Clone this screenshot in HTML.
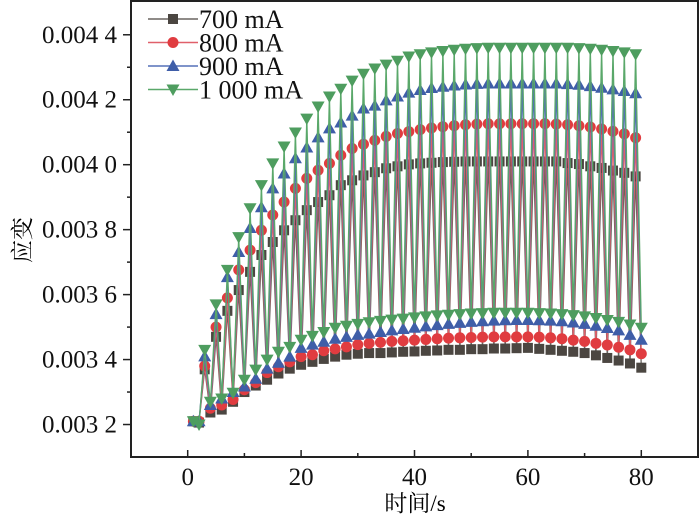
<!DOCTYPE html>
<html><head><meta charset="utf-8"><style>
html,body{margin:0;padding:0;background:#fff;}
svg{display:block;font-family:"Liberation Serif","Noto Serif CJK SC",serif;}
text{font-family:"Liberation Serif","Noto Serif CJK SC",serif;}
</style></head><body>
<svg id="chart" width="700" height="525" viewBox="0 0 700 525">
<g id="axes"></g>
<g id="series"></g>
<g id="legend"></g>
<text x="415" y="511" font-size="23" text-anchor="middle">时间/s</text>
<text transform="translate(30,240) rotate(-90)" font-size="23" text-anchor="middle">应变</text>
</svg>
<script>
// data (strain values in units of 1e-3), time t = 1..80
const times = Array.from({length:80},(_,i)=>i+1);
const strain700 = [3.21,3.206,3.37,3.237,3.47,3.246,3.55,3.27,3.614,3.3,3.67,3.32,3.722,3.338,3.762,3.357,3.798,3.372,3.829,3.384,3.86,3.393,3.885,3.402,3.906,3.409,3.937,3.415,3.952,3.418,3.967,3.42,3.977,3.42,3.989,3.422,3.995,3.424,4.001,3.425,4.004,3.427,4.006,3.428,4.008,3.43,4.009,3.43,4.01,3.432,4.01,3.432,4.01,3.434,4.01,3.434,4.01,3.435,4.01,3.436,4.01,3.433,4.01,3.43,4.01,3.427,4.005,3.424,4.002,3.42,3.995,3.413,3.99,3.405,3.982,3.397,3.975,3.388,3.964,3.375];
const strain800 = [3.21,3.21,3.38,3.25,3.5,3.26,3.59,3.277,3.676,3.307,3.737,3.329,3.798,3.36,3.845,3.378,3.885,3.393,3.927,3.409,3.958,3.415,3.983,3.427,4.004,3.433,4.029,3.439,4.05,3.446,4.063,3.45,4.075,3.453,4.087,3.456,4.096,3.458,4.102,3.46,4.108,3.462,4.113,3.464,4.117,3.466,4.12,3.467,4.123,3.468,4.125,3.469,4.126,3.47,4.126,3.47,4.126,3.47,4.126,3.47,4.126,3.469,4.126,3.467,4.125,3.464,4.123,3.46,4.12,3.456,4.116,3.45,4.11,3.445,4.103,3.438,4.095,3.43,4.083,3.418];
const strain900 = [3.21,3.21,3.41,3.26,3.54,3.28,3.654,3.3,3.731,3.317,3.805,3.341,3.869,3.372,3.927,3.39,3.973,3.409,4.02,3.436,4.053,3.446,4.084,3.455,4.112,3.464,4.13,3.47,4.151,3.476,4.173,3.48,4.182,3.485,4.198,3.49,4.21,3.494,4.222,3.498,4.23,3.502,4.236,3.506,4.24,3.51,4.244,3.513,4.247,3.516,4.249,3.518,4.25,3.52,4.25,3.521,4.25,3.522,4.25,3.522,4.25,3.521,4.25,3.52,4.25,3.518,4.248,3.514,4.246,3.51,4.242,3.504,4.237,3.497,4.232,3.49,4.227,3.476,4.22,3.461];
const strain1000 = [3.21,3.2,3.43,3.27,3.57,3.28,3.676,3.298,3.777,3.338,3.866,3.369,3.937,3.4,4.004,3.424,4.056,3.439,4.099,3.461,4.142,3.473,4.179,3.485,4.21,3.498,4.234,3.504,4.259,3.51,4.28,3.515,4.296,3.519,4.308,3.523,4.32,3.526,4.333,3.53,4.34,3.533,4.346,3.536,4.35,3.538,4.354,3.54,4.357,3.542,4.359,3.543,4.36,3.544,4.36,3.544,4.36,3.544,4.36,3.544,4.36,3.543,4.36,3.542,4.36,3.54,4.36,3.537,4.359,3.533,4.357,3.528,4.354,3.522,4.35,3.516,4.346,3.508,4.34,3.498];
const seriesNames = ["700 mA","800 mA","900 mA","1 000 mA"];
const xTicks = [0,20,40,60,80];
const xMinorTicks = [-10,10,30,50,70,90];
const yTicks = [3.2,3.4,3.6,3.8,4.0,4.2,4.4];
const yTickLabels = ["0.003 2","0.003 4","0.003 6","0.003 8","0.004 0","0.004 2","0.004 4"];
const yMinorTicks = [3.3,3.5,3.7,3.9,4.1,4.3];

const L=131,R=698,T=1,B=457;
const X0=-10,X1=90,Y0=3.1,Y1=4.504;
const xs=v=>L+(v-X0)/(X1-X0)*(R-L);
const ys=v=>B-(v-Y0)/(Y1-Y0)*(B-T);
const NS="http://www.w3.org/2000/svg";
function mk(tag,attrs,parent){const e=document.createElementNS(NS,tag);for(const k in attrs)e.setAttribute(k,attrs[k]);parent.appendChild(e);return e;}

const axes=document.getElementById('axes');
const frame=mk('rect',{x:L,y:T,width:R-L,height:B-T,fill:'none',stroke:'#222','stroke-width':2},axes);


xTicks.forEach((v,i)=>{
  const t=mk('line',{x1:xs(v),x2:xs(v),y1:B,y2:B-7,stroke:'#222','stroke-width':1.5},axes);
  
  
  const lb=mk('text',{x:xs(v),y:485,'font-size':25,'text-anchor':'middle',fill:'#111'},axes);
  lb.textContent=String(v);
  
  
});
xMinorTicks.forEach(v=>{
  if(xs(v)<=L+1||xs(v)>=R-1)return;
  const t=mk('line',{x1:xs(v),x2:xs(v),y1:B,y2:B-4,stroke:'#222','stroke-width':1.5},axes);
  
  
});
yTicks.forEach((v,i)=>{
  const t=mk('line',{x1:L,x2:L-8,y1:ys(v),y2:ys(v),stroke:'#222','stroke-width':1.5},axes);
  
  
  const lb=mk('text',{x:117,y:ys(v)+8,'font-size':25,'text-anchor':'end',fill:'#111'},axes);
  lb.textContent=yTickLabels[i];
  
  
});
yMinorTicks.forEach(v=>{
  const t=mk('line',{x1:L,x2:L-4,y1:ys(v),y2:ys(v),stroke:'#222','stroke-width':1.5},axes);
  
  
});

const colors=['#4b4641','#e03c40','#3f5ea8','#4e9d5f'];
const lineColors=['#6a6560','#e0606a','#5570b8','#5aa86a'];
const shapes=['square','circle','up','down'];
function marker(g,shape,cx,cy,c){
  let e;
  if(shape==='square')e=mk('rect',{x:cx-5,y:cy-5,width:10,height:10,fill:c},g);
  else if(shape==='circle')e=mk('circle',{cx:cx,cy:cy,r:5.5,fill:c},g);
  else if(shape==='up')e=mk('polygon',{points:`${cx},${cy-6.5} ${cx-6.5},${cy+5} ${cx+6.5},${cy+5}`,fill:c},g);
  else e=mk('polygon',{points:`${cx},${cy+6.5} ${cx-6.5},${cy-5} ${cx+6.5},${cy-5}`,fill:c},g);
  return e;
}
const seriesG=document.getElementById('series');
[strain700,strain800,strain900,strain1000].forEach((arr,si)=>{
  const g=mk('g',{},seriesG);
  
  
  const pts=arr.map((v,i)=>xs(times[i]).toFixed(1)+','+ys(v).toFixed(1)).join(' ');
  const pl=mk('polyline',{points:pts,fill:'none',stroke:lineColors[si],'stroke-width':1.3},g);
  
  
  arr.forEach((v,i)=>{
    const m=marker(g,shapes[si],xs(times[i]),ys(v),colors[si]);
    
    
  });
});
const lg=document.getElementById('legend');
seriesNames.forEach((n,i)=>{
  const y=19+i*23.5;
  const g=mk('g',{},lg);
  
  
  mk('line',{x1:148,x2:198,y1:y,y2:y,stroke:lineColors[i],'stroke-width':1.5},g);
  marker(g,shapes[i],173,y,colors[i]);
  const t=mk('text',{x:199,y:y+9,'font-size':26,fill:'#111'},g);
  t.textContent=n;
});
</script>
</body></html>
